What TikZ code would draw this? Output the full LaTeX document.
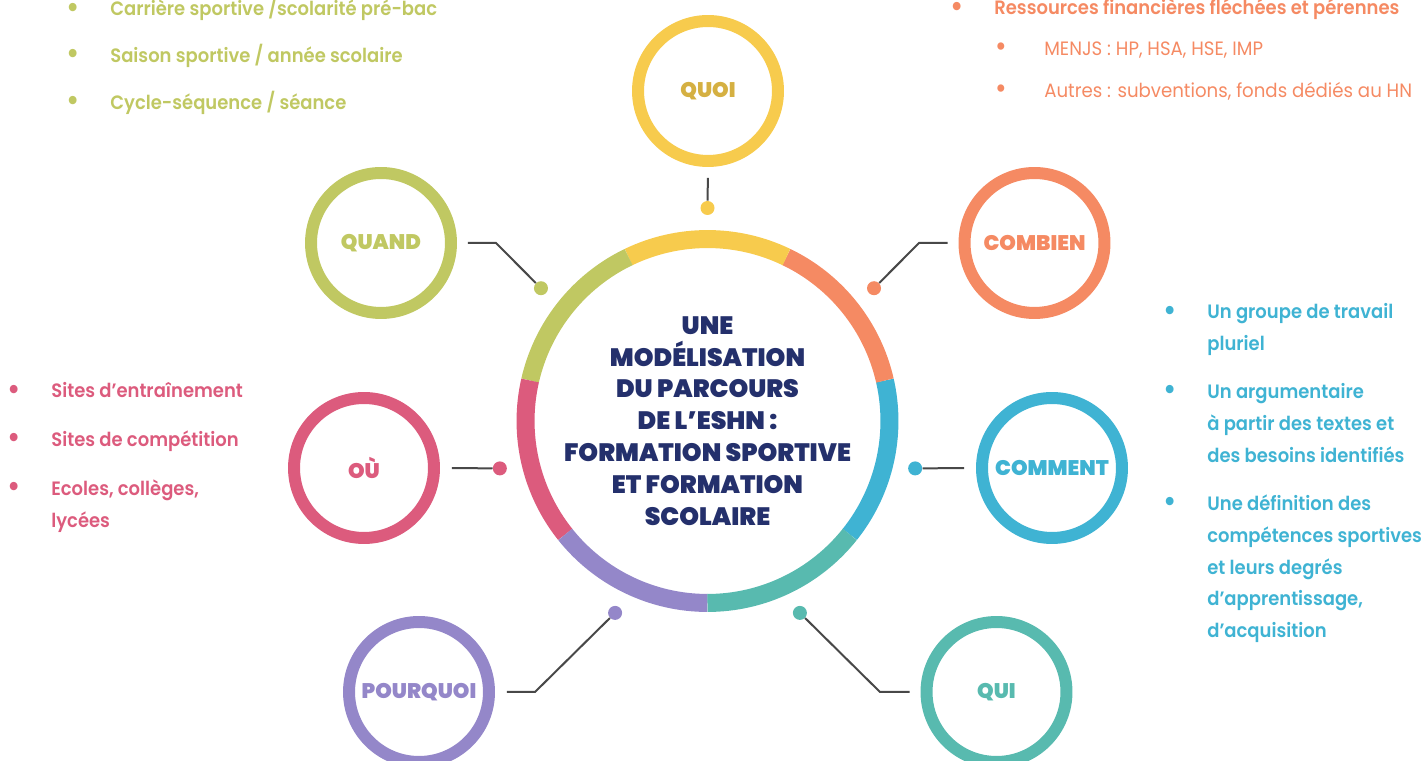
\documentclass[tikz,border=0pt]{standalone}
\usepackage{fontspec}
\setmainfont{Poppins}
\newfontfamily\titrefont{Poppins}[UprightFont=* Black]
\newfontfamily\listefont{Poppins}[UprightFont=* SemiBold, FakeStretch=0.93]
\newfontfamily\livrefont{Poppins}[FakeStretch=0.94]
\usetikzlibrary{calc}

\definecolor{cvert}{RGB}{192,200,98}
\definecolor{cjaune}{RGB}{247,203,77}
\definecolor{cjaunefonce}{RGB}{213,176,66}
\definecolor{corange}{RGB}{245,138,99}
\definecolor{cbleu}{RGB}{63,179,211}
\definecolor{cturquoise}{RGB}{88,186,175}
\definecolor{cviolet}{RGB}{148,135,201}
\definecolor{crose}{RGB}{220,91,125}
\definecolor{cmarine}{RGB}{36,48,108}
\definecolor{cgris}{RGB}{72,72,72}

\newcommand{\rond}{{\fontsize{17}{17}\selectfont\raisebox{-0.6pt}{\textbullet}}}
\newcommand{\puce}{\makebox[0.88cm][l]{\rond}}

\begin{document}
\begin{tikzpicture}[x=0.02cm, y=0.02cm,
    sat/.style={circle, draw=#1, text=#1, line width=0.24cm, minimum size=2.8cm, inner sep=0,
        font=\titrefont\fontsize{12}{12}\selectfont},
    point/.style={circle, fill=#1, minimum size=0.28cm, inner sep=0},
    lien/.style={draw=cgris, line width=0.04cm},
    liste/.style={text=#1, anchor=base west, inner sep=0, font=\listefont\fontsize{11}{18.14}\selectfont},
    titre/.style={align=center, text=cmarine, font=\titrefont\fontsize{14.3}{18.14}\selectfont}]
    \useasboundingbox (0,0) rectangle (1421,761);

    % central ring
    \coordinate (C) at (707.5,340);
    \foreach \a/\c in {-38.57/cbleu, 12.86/corange, 64.29/cjaune, 115.71/cvert,
                       167.14/crose, 218.57/cviolet, 270/cturquoise}
        \draw[line width=0.36cm, \c] ($(C)+(\a:3.64cm)$) arc[start angle=\a, delta angle=51.43, radius=3.64cm];

    \node[titre] (titre) at (C) {UNE\\MODÉLISATION\\DU PARCOURS\\DE L’ESHN :\\FORMATION SPORTIVE\\ET FORMATION\\SCOLAIRE};

    % dots on the ring
    \foreach \a/\n/\c in {90/quoi/cjaune, 38.57/combien/corange, -12.86/comment/cbleu, -64.29/qui/cturquoise,
                          -115.71/pourquoi/cviolet, 192.86/ou/crose, 141.43/quand/cvert}
        \node[point=\c] (d\n) at ($(C)+(\a:213)$) {};

    % satellites
    \node[sat=cjaune, text=cjaunefonce] (quoi) at (708,670) {QUOI};
    \node[sat=cvert] (quand) at (381,518) {QUAND};
    \node[sat=corange] (combien) at (1034.5,518) {COMBIEN};
    \node[sat=crose] (ou) at (364,293) {OÙ};
    \node[sat=cbleu] (comment) at (1052,293) {COMMENT};
    \node[sat=cturquoise] (qui) at (996.5,69) {QUI};
    \node[sat=cviolet] (pourquoi) at (419,69) {POURQUOI};

    % connectors
    \coordinate (bquand) at (496,518);
    \coordinate (bcombien) at (919,518);
    \coordinate (bqui) at (880,69);
    \coordinate (bpourquoi) at (535,69);
    \draw[lien, shorten <=0.22cm] (quoi.south) -- (dquoi);
    \draw[lien, shorten <=0.22cm] (quand.east) -- (bquand) -- (dquand);
    \draw[lien, shorten <=0.22cm] (combien.west) -- (bcombien) -- (dcombien);
    \draw[lien, shorten <=0.24cm] (ou.east) -- (dou);
    \draw[lien, shorten <=0.24cm] (comment.west) -- (dcomment);
    \draw[lien, shorten <=0.22cm] (qui.west) -- (bqui) -- (dqui);
    \draw[lien, shorten <=0.24cm] (pourquoi.east) -- (bpourquoi) -- (dpourquoi);

    % lists
    \node[liste=cvert] (lquand) at (66,745) {\begin{tabular}[t]{@{}l@{}}
        \puce Carrière sportive /scolarité pré-bac\\[0.3cm]
        \puce Saison sportive / année scolaire\\[0.3cm]
        \puce Cycle-séquence / séance
    \end{tabular}};
    \node[liste=corange] (lcombien) at (950,746) {\begin{tabular}[t]{@{}l@{}}
        \puce Ressources financières fléchées et pérennes\\[0.18cm]
        \livrefont\hspace{0.9cm}\makebox[0.98cm][l]{\rond}MENJS : HP, HSA, HSE, IMP\\[0.2cm]
        \livrefont\hspace{0.9cm}\makebox[0.98cm][l]{\rond}Autres : subventions, fonds dédiés au HN
    \end{tabular}};
    \node[liste=cbleu] (lcomment) at (1163,442) {\begin{tabular}[t]{@{}l@{}}
        \puce Un groupe de travail\\
        \hspace{0.88cm}pluriel\\[0.32cm]
        \puce Un argumentaire\\
        \hspace{0.88cm}à partir des textes et\\
        \hspace{0.88cm}des besoins identifiés\\[0.32cm]
        \puce Une définition des\\
        \hspace{0.88cm}compétences sportives\\
        \hspace{0.88cm}et leurs degrés\\
        \hspace{0.88cm}d’apprentissage,\\
        \hspace{0.88cm}d’acquisition
    \end{tabular}};
    \node[liste=crose] (lou) at (7,363) {\begin{tabular}[t]{@{}l@{}}
        \puce Sites d’entraînement\\[0.34cm]
        \puce Sites de compétition\\[0.34cm]
        \puce Ecoles, collèges,\\
        \hspace{0.88cm}lycées
    \end{tabular}};
\end{tikzpicture}
\end{document}
